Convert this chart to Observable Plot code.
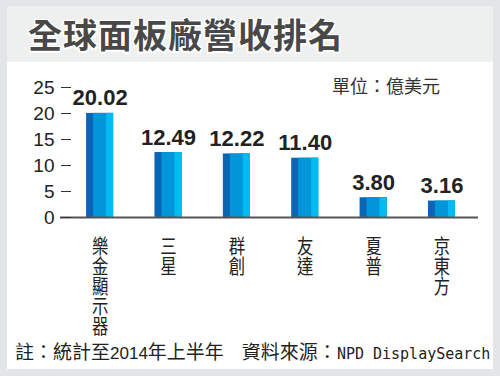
<!DOCTYPE html>
<html><head><meta charset="utf-8">
<script src="https://cdn.jsdelivr.net/npm/d3@7"></script>
<script src="https://cdn.jsdelivr.net/npm/@observablehq/plot@0.6"></script>
<style>
html,body{margin:0;padding:0;}
body{width:500px;height:376px;background:#e4e5e7;position:relative;overflow:hidden;font-family:"Noto Sans CJK TC",sans-serif;}
#title{position:absolute;left:7px;top:6px;width:486px;height:56px;background:#eef0f0;}
#title span{position:absolute;left:21px;top:0;line-height:56px;font-size:34px;font-weight:bold;color:#484848;letter-spacing:1px;
 text-shadow:-1.5px -1.5px 0 #fff,1.5px -1.5px 0 #fff,-1.5px 1.5px 0 #fff,1.5px 1.5px 0 #fff,0 1.5px 0 #fff,0 -1.5px 0 #fff,1.5px 0 0 #fff,-1.5px 0 0 #fff;}
#panel{position:absolute;left:7px;top:62px;width:486px;height:307px;background:#fff;}
#chart{position:absolute;left:0;top:0;}
#unit{position:absolute;left:325px;top:12px;font-size:18px;line-height:22px;color:#333;}
#note{position:absolute;left:8px;top:277px;font-size:19px;line-height:24px;color:#222;white-space:nowrap;}
#note .m{font-family:"DejaVu Sans Mono",monospace;font-size:15px;}
#note .n{font-family:"Liberation Sans Narrow","Liberation Sans",sans-serif;font-size:17px;}
#note .sp{display:inline-block;width:18px;}
</style></head>
<body>
<div id="title"><span>全球面板廠營收排名</span></div>
<div id="panel">
 <div id="chart"></div>
 <div id="unit">單位：億美元</div>
 <div id="note">註：統計至<span class="n">2014</span>年上半年<span class="sp"></span>資料來源：<span class="m">NPD DisplaySearch</span></div>
</div>
<script>
const companies = ["樂金顯示器", "三星", "群創", "友達", "夏普", "京東方"];
const revenues = [20.02, 12.49, 12.22, 11.40, 3.80, 3.16];
const yTicks = [0, 5, 10, 15, 20, 25];

const data = companies.map((c, i) => ({company: c, revenue: revenues[i]}));

const chart = Plot.plot({
  width: 486,
  height: 280,
  marginTop: 25,
  marginBottom: 125,
  marginLeft: 64,
  marginRight: 15,
  style: {background: "transparent", fontFamily: "'Liberation Sans', Arial, sans-serif", color: "#222"},
  x: {domain: companies, range: [51.75, 475.3], paddingInner: 0.605, paddingOuter: 0.4, round: false, label: null},
  y: {domain: [0, 25], label: null},
  marks: [
    Plot.barY(data, {x: "company", y: "revenue", fill: "#0a66b4"}),
    Plot.barY(data, {x: "company", y: "revenue", fill: "#0096d9", insetLeft: 7}),
    Plot.barY(data, {x: "company", y: "revenue", fill: "#00bcf1", insetLeft: 20}),
    Plot.ruleY([0], {stroke: "#555", strokeWidth: 2, insetLeft: -11}),
    Plot.axisY({ticks: yTicks, tickSize: 10, tickPadding: 7, fontSize: 19, stroke: "#333", fill: "#222", label: null}),
    Plot.axisX({tickSize: 0, tickPadding: 5, fontSize: 20, fill: "#222", label: null,
      fontFamily: "'Noto Sans CJK TC', sans-serif"}),
    Plot.text(data, {x: "company", y: "revenue", text: d => d3.format(".2f")(d.revenue),
      dy: -8, lineAnchor: "bottom", fontSize: 22, fontWeight: "bold", fill: "#222"})
  ]
});
// set x tick labels in vertical (top-to-bottom) writing mode, as in the original
d3.select(chart).selectAll('g[aria-label="x-axis tick label"] text')
  .attr("dy", 0)
  .attr("text-anchor", "start")
  .attr("transform", function() { return (this.getAttribute("transform") || "") + " scale(0.82,1)"; })
  .style("writing-mode", "vertical-rl");
document.getElementById("chart").appendChild(chart);
</script>
</body></html>
